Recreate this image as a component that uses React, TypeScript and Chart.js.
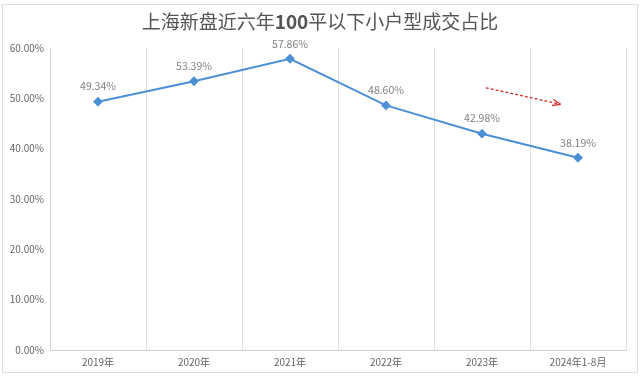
import React, { useEffect, useRef } from "react";
import { Chart, registerables } from "chart.js";
Chart.register(...registerables);

const categories = ["2019年", "2020年", "2021年", "2022年", "2023年", "2024年1-8月"];
const shares = [49.34, 53.39, 57.86, 48.6, 42.98, 38.19];
const yTicks = [0, 10, 20, 30, 40, 50, 60];
const titleParts = [
  { text: "上海新盘近六年", bold: false },
  { text: "100", bold: true },
  { text: "平以下小户型成交占比", bold: false },
];
// trend arrow in data space: [categoryIndex, value]
const arrowFrom = [4.04, 52.1];
const arrowTo = [4.8, 48.9];

const FONT = "'Noto Sans CJK SC', 'Noto Sans', sans-serif";

const decor = {
  id: "decor",
  beforeDraw(chart: any) {
    const ctx = chart.ctx;
    ctx.save();
    ctx.fillStyle = "#fff";
    ctx.fillRect(0, 0, chart.width, chart.height);
    ctx.strokeStyle = "#dcdcdc";
    ctx.lineWidth = 1;
    ctx.strokeRect(2.5, 4.5, 635, 368);
    ctx.restore();
  },
  afterDraw(chart: any) {
    const ctx = chart.ctx;
    ctx.save();
    // title
    const size = 19;
    ctx.textBaseline = "middle";
    let total = 0;
    const widths = titleParts.map((p) => {
      ctx.font = `${p.bold ? "bold " : ""}${size}px ${FONT}`;
      const w = ctx.measureText(p.text).width;
      total += w;
      return w;
    });
    let x = chart.width / 2 - total / 2;
    ctx.fillStyle = "#555";
    titleParts.forEach((p, i) => {
      ctx.font = `${p.bold ? "bold " : ""}${size}px ${FONT}`;
      ctx.fillText(p.text, x, 22);
      x += widths[i];
    });
    // data labels
    const meta = chart.getDatasetMeta(0);
    ctx.font = `10.5px ${FONT}`;
    ctx.fillStyle = "#808080";
    ctx.textAlign = "center";
    ctx.textBaseline = "bottom";
    meta.data.forEach((pt: any, i: number) => {
      ctx.fillText(shares[i].toFixed(2) + "%", pt.x, pt.y - 10);
    });
    // arrow
    const xs = chart.scales.x, ys = chart.scales.y;
    const x1 = xs.getPixelForValue(arrowFrom[0]), y1 = ys.getPixelForValue(arrowFrom[1]);
    const x2 = xs.getPixelForValue(arrowTo[0]), y2 = ys.getPixelForValue(arrowTo[1]);
    ctx.strokeStyle = "#d0312d";
    ctx.fillStyle = "#d0312d";
    ctx.lineWidth = 1.3;
    ctx.setLineDash([3, 2]);
    ctx.beginPath();
    ctx.moveTo(x1, y1);
    ctx.lineTo(x2, y2);
    ctx.stroke();
    ctx.setLineDash([]);
    const ang = Math.atan2(y2 - y1, x2 - x1);
    ctx.beginPath();
    ctx.moveTo(x2 + 2 * Math.cos(ang), y2 + 2 * Math.sin(ang));
    ctx.lineTo(x2 - 7 * Math.cos(ang - 0.45), y2 - 7 * Math.sin(ang - 0.45));
    ctx.moveTo(x2 + 2 * Math.cos(ang), y2 + 2 * Math.sin(ang));
    ctx.lineTo(x2 - 7 * Math.cos(ang + 0.45), y2 - 7 * Math.sin(ang + 0.45));
    ctx.stroke();
    ctx.restore();
  },
};

export default function App() {
  const ref = useRef<HTMLCanvasElement>(null);
  useEffect(() => {
    document.body.style.margin = "0";
    const chart = new Chart(ref.current!, {
      type: "line",
      data: {
        labels: categories,
        datasets: [
          {
            data: shares,
            borderColor: "#4c8fd6",
            backgroundColor: "#4c8fd6",
            borderWidth: 2,
            pointStyle: "rectRot",
            pointRadius: 3.5,
            tension: 0,
          },
        ],
      },
      options: {
        animation: false,
        responsive: false,
        layout: { padding: { top: 48, right: 14, left: 0, bottom: 0 } },
        plugins: { legend: { display: false }, tooltip: { enabled: false }, title: { display: false } },
        scales: {
          x: {
            type: "category",
            offset: true,
            grid: { display: true, offset: true, color: "#e2e2e2", drawTicks: false },
            border: { display: true, color: "#d0d0d0" },
            ticks: { color: "#666", font: { size: 10, family: FONT }, padding: 6, maxRotation: 0 },
            afterFit: (s: any) => { s.height = 27; },
          },
          y: {
            min: 0,
            max: 60,
            afterBuildTicks: (s: any) => { s.ticks = yTicks.map((v) => ({ value: v })); },
            grid: { display: false, drawTicks: false },
            border: { display: true, color: "#d0d0d0" },
            ticks: {
              color: "#666",
              font: { size: 10, family: FONT },
              padding: 6,
              callback: (v: any) => Number(v).toFixed(2) + "%",
            },
            afterFit: (s: any) => { s.width = 50; },
          },
        },
      },
      plugins: [decor],
    });
    return () => chart.destroy();
  }, []);
  return <canvas ref={ref} width={640} height={377} style={{ display: "block" }} />;
}
